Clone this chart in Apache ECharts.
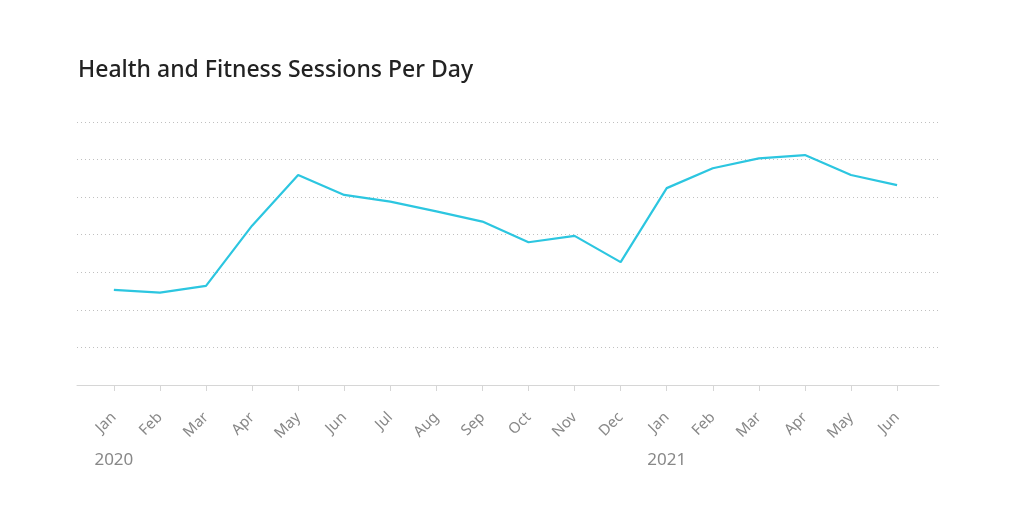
<!DOCTYPE html>
<html>
<head>
<meta charset="utf-8">
<script src="https://cdn.jsdelivr.net/npm/echarts@6/dist/echarts.min.js"></script>
<style>
html,body{margin:0;padding:0;background:#fff;}
#chart{width:1024px;height:510px;}
</style>
</head>
<body>
<div id="chart"></div>
<script>
const months = ['Jan','Feb','Mar','Apr','May','Jun','Jul','Aug','Sep','Oct','Nov','Dec','Jan','Feb','Mar','Apr','May','Jun'];
const years = {0:'2020', 12:'2021'};
const sessions = [25.3, 24.6, 26.4, 42.4, 55.9, 50.6, 48.8, 46.2, 43.5, 38.0, 39.7, 32.7, 52.4, 57.7, 60.3, 61.2, 55.9, 53.2];
const yTicks = [0, 10, 20, 30, 40, 50, 60, 70];

const idx = months.map((m, i) => i);
const chart = echarts.init(document.getElementById('chart'));
chart.setOption({
  animation: false,
  title: {
    text: 'Health and Fitness Sessions Per Day',
    left: 73, top: 54,
    textStyle: {fontFamily: 'Noto Sans', fontSize: 23, fontWeight: 500, color: '#222'}
  },
  grid: {left: 77, right: 85, top: 122, bottom: 125},
  xAxis: [{
    type: 'value', min: -0.8, max: 17.91,
    axisLine: {show: true, lineStyle: {color: '#d6d6d6', width: 1}},
    axisTick: {show: true, customValues: idx, length: 6, lineStyle: {color: '#d6d6d6'}},
    splitLine: {show: false},
    axisLabel: {
      customValues: idx, rotate: 45, margin: 30,
      fontFamily: 'Noto Sans', fontSize: 15, color: '#888',
      formatter: v => months[Math.round(v)]
    }
  }, {
    type: 'value', min: -0.8, max: 17.91, position: 'bottom', offset: 67,
    axisLine: {show: false}, axisTick: {show: false}, splitLine: {show: false},
    axisLabel: {
      customValues: [0, 12], margin: 0,
      fontFamily: 'Noto Sans', fontSize: 17, color: '#888',
      formatter: v => years[Math.round(v)] || ''
    }
  }],
  yAxis: {
    type: 'value', min: yTicks[0], max: yTicks[yTicks.length - 1], interval: 10,
    axisLine: {show: false}, axisTick: {show: false}, axisLabel: {show: false},
    splitLine: {show: true, lineStyle: {color: '#c0c0c0', type: [1, 3], width: 1}}
  },
  series: [{
    type: 'line', xAxisIndex: 0,
    data: sessions.map((v, i) => [i, v]),
    symbol: 'none',
    lineStyle: {color: '#2cc6e0', width: 2.2},
    itemStyle: {color: '#2cc6e0'}
  }]
});
</script>
</body>
</html>
